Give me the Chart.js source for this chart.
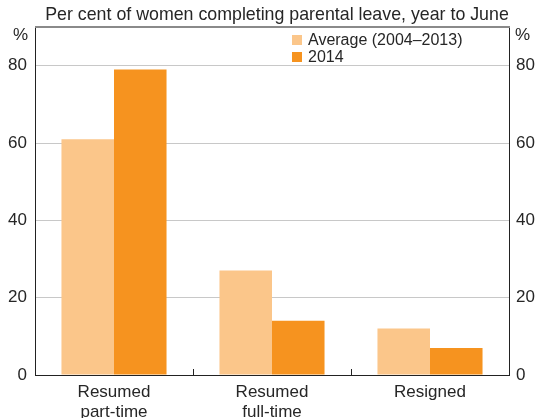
<!DOCTYPE html>
<html>
<head>
<meta charset="utf-8">
<script src="https://cdn.jsdelivr.net/npm/chart.js@4/dist/chart.umd.min.js"></script>
<style>
  html, body { margin: 0; padding: 0; background: #fff; }
  #wrap { width: 546px; height: 418px; position: relative; }
</style>
</head>
<body>
<div id="wrap"><canvas id="c" width="546" height="418"></canvas></div>
<script>
const titleText = 'Per cent of women completing parental leave, year to June';
const categories = [['Resumed', 'part-time'], ['Resumed', 'full-time'], 'Resigned'];
const seriesNames = ['Average (2004\u20132013)', '2014'];
const averageValues = [61, 27, 12];
const values2014 = [79, 14, 7];
const yTicks = [0, 20, 40, 60, 80];
const unitLabel = '%';

const colorAvg = '#FBC68A';
const color2014 = '#F6931F';
const textColor = '#262626';
const FONT = 'Liberation Sans, Arial, sans-serif';

const decorPlugin = {
  id: 'decor',
  afterDraw(chart) {
    const ctx = chart.ctx;
    const a = chart.chartArea;
    const xs = chart.scales.x;
    ctx.save();
    // title
    ctx.fillStyle = textColor;
    ctx.font = '17.8px ' + FONT;
    ctx.textAlign = 'center';
    ctx.textBaseline = 'alphabetic';
    ctx.fillText(titleText, 277, 19.5);
    // top border
    ctx.strokeStyle = '#8a8a8a';
    ctx.lineWidth = 2;
    ctx.beginPath();
    ctx.moveTo(a.left, a.top);
    ctx.lineTo(a.right + 1, a.top);
    ctx.stroke();
    // unit labels
    ctx.font = '17px ' + FONT;
    ctx.textBaseline = 'middle';
    ctx.textAlign = 'right';
    ctx.fillText(unitLabel, a.left - 7, a.top + 8);
    ctx.textAlign = 'left';
    ctx.fillText(unitLabel, a.right + 6, a.top + 8);
    // category boundary ticks
    ctx.strokeStyle = '#222';
    ctx.lineWidth = 1;
    for (let i = 0; i < categories.length - 1; i++) {
      const px = Math.round((xs.getPixelForValue(i) + xs.getPixelForValue(i + 1)) / 2) + 0.5;
      ctx.beginPath();
      ctx.moveTo(px, a.bottom);
      ctx.lineTo(px, a.bottom - 6);
      ctx.stroke();
    }
    // legend
    const ds = chart.data.datasets;
    ctx.font = '16px ' + FONT;
    ctx.textAlign = 'left';
    ctx.textBaseline = 'middle';
    for (let i = 0; i < ds.length; i++) {
      const y = 35 + i * 17;
      ctx.fillStyle = ds[i].backgroundColor;
      ctx.fillRect(292, y, 10, 10);
      ctx.fillStyle = textColor;
      ctx.fillText(ds[i].label, 308, y + 5.5);
    }
    ctx.restore();
  }
};

new Chart(document.getElementById('c'), {
  type: 'bar',
  data: {
    labels: categories,
    datasets: [
      { label: seriesNames[0], data: averageValues, backgroundColor: colorAvg, yAxisID: 'y' },
      { label: seriesNames[1], data: values2014, backgroundColor: color2014, yAxisID: 'y' }
    ]
  },
  options: {
    responsive: false,
    animation: false,
    devicePixelRatio: 1,
    layout: { padding: { top: 27, left: 0, right: 0, bottom: 0 } },
    datasets: { bar: { categoryPercentage: 0.665, barPercentage: 1.0, borderWidth: 0 } },
    plugins: { legend: { display: false }, title: { display: false }, tooltip: { enabled: false } },
    scales: {
      x: {
        grid: { display: false, drawTicks: false },
        border: { display: true, color: '#222', width: 1 },
        ticks: { color: textColor, font: { size: 17, family: FONT, lineHeight: 1.2 }, padding: 7, maxRotation: 0, autoSkip: false },
        afterFit(s) { s.height = 43; }
      },
      y: {
        position: 'left',
        min: 0, max: 90,
        afterBuildTicks(s) { s.ticks = yTicks.map(v => ({ value: v })); },
        grid: {
          drawTicks: false,
          color: c => (c.tick && c.tick.value === 0) ? 'rgba(0,0,0,0)' : '#c8c8c8',
          lineWidth: 1
        },
        border: { display: true, color: '#222', width: 1 },
        ticks: { color: textColor, font: { size: 17, family: FONT }, padding: 8 },
        afterFit(s) { s.width = 35; }
      },
      y2: {
        position: 'right',
        display: true,
        min: 0, max: 90,
        afterBuildTicks(s) { s.ticks = yTicks.map(v => ({ value: v })); },
        grid: { display: false, drawTicks: false },
        border: { display: true, color: '#222', width: 1 },
        ticks: { color: textColor, font: { size: 17, family: FONT }, padding: 7 },
        afterFit(s) { s.width = 37; }
      }
    }
  },
  plugins: [decorPlugin]
});
</script>
</body>
</html>
